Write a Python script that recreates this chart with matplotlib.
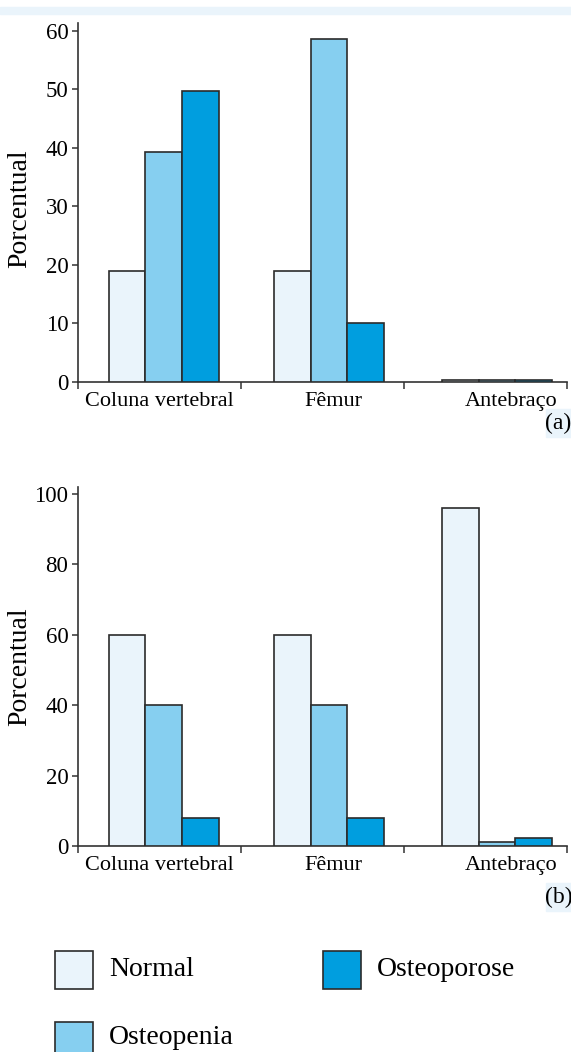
import matplotlib
matplotlib.use("Agg")
import matplotlib.pyplot as plt
from matplotlib.patches import Rectangle

# Data
regions = ["Coluna vertebral", "Fêmur", "Antebraço"]
series = ["Normal", "Osteopenia", "Osteoporose"]
colors = ["#EAF4FB", "#86CFF0", "#009EDF"]

# Panel (a)
pct_a_normal = [19, 19, 0.3]
pct_a_osteopenia = [39.2, 58.5, 0.3]
pct_a_osteoporose = [49.7, 10, 0.3]

# Panel (b)
pct_b_normal = [60, 60, 96]
pct_b_osteopenia = [40, 40, 1]
pct_b_osteoporose = [8, 8, 2.3]

yticks_a = [0, 10, 20, 30, 40, 50, 60]
yticks_b = [0, 20, 40, 60, 80, 100]

FONT = "Liberation Serif"
EDGE = "#2b2b2b"
PALE = "#EAF4FB"

W, H = 571, 1052
fig = plt.figure(figsize=(W / 100, H / 100), dpi=100)


def px_box(left, top, right, bottom):
    return [left / W, 1 - bottom / H, (right - left) / W, (bottom - top) / H]


def fx(x):
    return x / W


def fy(y):
    return 1 - y / H


group_start = [0.19, 1.205, 2.235]
bar_w = 0.224
label_pos = [0.498, 1.567, 2.655]


def draw_panel(ax, values, ylim, yticks):
    for j, (vals, col) in enumerate(zip(values, colors)):
        xs = [s + bar_w * (j + 0.5) for s in group_start]
        ax.bar(xs, vals, width=bar_w, color=col, edgecolor=EDGE,
               linewidth=1.2, zorder=3)
    ax.set_xlim(0, 3)
    ax.set_ylim(*ylim)
    for s in ("top", "right"):
        ax.spines[s].set_visible(False)
    for s in ("left", "bottom"):
        ax.spines[s].set_linewidth(1.2)
        ax.spines[s].set_color("#333333")
    ax.set_xticks([0, 1, 2, 3])
    ax.set_xticklabels([])
    ax.set_xticks(label_pos, minor=True)
    ax.set_xticklabels(regions, minor=True, fontfamily=FONT, fontsize=16)
    ax.tick_params(axis="x", which="major", direction="out", length=5,
                   width=1.1, color="#333333")
    ax.tick_params(axis="x", which="minor", length=0, pad=7)
    ax.set_yticks(yticks)
    ax.set_yticklabels([str(t) for t in yticks], fontfamily=FONT, fontsize=16.5)
    ax.tick_params(axis="y", direction="out", length=4, width=1.1,
                   color="#333333", pad=3)
    ax.patch.set_visible(False)


# Thin pale band along the top
fig.patches.append(Rectangle((0, fy(14)), 1, fy(7) - fy(14),
                             transform=fig.transFigure, color=PALE, zorder=0))

ax_a = fig.add_axes(px_box(78, 23, 567, 382))
draw_panel(ax_a, [pct_a_normal, pct_a_osteopenia, pct_a_osteoporose],
           (0, 61.3), yticks_a)

ax_b = fig.add_axes(px_box(78, 487, 567, 846))
draw_panel(ax_b, [pct_b_normal, pct_b_osteopenia, pct_b_osteoporose],
           (0, 102), yticks_b)

# Axis titles
fig.text(fx(20), fy(209), "Porcentual", rotation=90, ha="center", va="center",
         fontfamily=FONT, fontsize=20)
fig.text(fx(20), fy(667), "Porcentual", rotation=90, ha="center", va="center",
         fontfamily=FONT, fontsize=20)

# Panel tags
for tag, top in (("(a)", 409), ("(b)", 883)):
    fig.patches.append(Rectangle((fx(546), fy(top + 28)), fx(571) - fx(546),
                                 fy(top) - fy(top + 28),
                                 transform=fig.transFigure, color=PALE))
    fig.text(fx(558.5), fy(top + 14), tag, ha="center", va="center",
             fontfamily=FONT, fontsize=17)

# Legend
legend_items = [
    (series[0], colors[0], 55, 951, 970),
    (series[2], colors[2], 323, 951, 970),
    (series[1], colors[1], 55, 1022, 1037),
]
for name, col, lx, ty, ty_text in legend_items:
    fig.patches.append(Rectangle((fx(lx), fy(ty + 38)), fx(38), fy(ty) - fy(ty + 38),
                                 transform=fig.transFigure, facecolor=col,
                                 edgecolor=EDGE, linewidth=1.2))
    fig.text(fx(lx + 54), fy(ty_text), name, ha="left", va="center",
             fontfamily=FONT, fontsize=20)

fig.savefig("out.png", dpi=100)
